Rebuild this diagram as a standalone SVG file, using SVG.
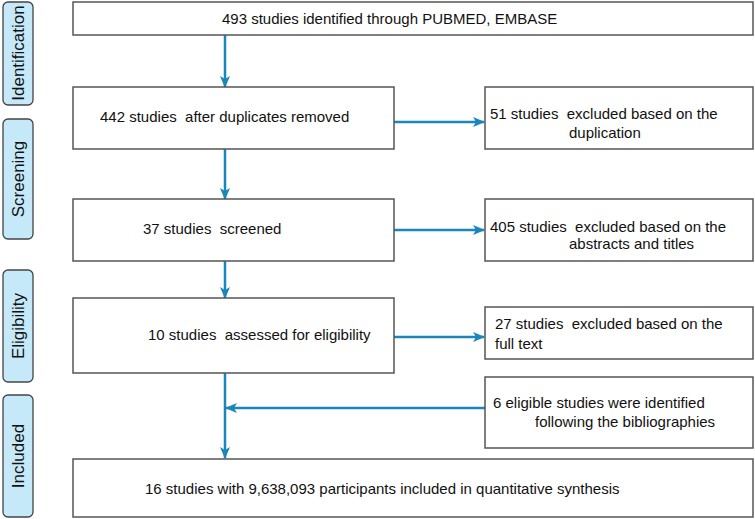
<svg xmlns="http://www.w3.org/2000/svg" width="755" height="519" viewBox="0 0 755 519">
<style>
.box{fill:#fff;stroke:#555;stroke-width:1.5}
.side{fill:#c6e9f9;stroke:#444;stroke-width:1.3}
.t{font-family:"Liberation Sans",Arial,sans-serif;font-size:15px;fill:#111;white-space:pre}
.st{font-family:"Liberation Sans",Arial,sans-serif;font-size:17px;fill:#111;text-anchor:middle;dominant-baseline:central}
.c{stroke:#1a86bb;stroke-width:2.5;fill:none}
</style>
<defs>
<marker id="ah" viewBox="0 0 12 10" refX="11" refY="5" markerWidth="12" markerHeight="10" markerUnits="userSpaceOnUse" orient="auto">
<path d="M0,0 L12,5 L0,10 L3,5 Z" fill="#1a86bb"/>
</marker>
</defs>
<rect width="755" height="519" fill="#fff"/>
<g id="lbl-identification"><rect class="side" x="3" y="2" width="30" height="103" rx="5"/><text class="st" transform="translate(18,53) rotate(-90)">Identification</text></g>
<g id="lbl-screening"><rect class="side" x="3" y="119" width="30" height="120" rx="5"/><text class="st" transform="translate(18,179) rotate(-90)">Screening</text></g>
<g id="lbl-eligibility"><rect class="side" x="3" y="270" width="30" height="112" rx="5"/><text class="st" transform="translate(18,326) rotate(-90)">Eligibility</text></g>
<g id="lbl-included"><rect class="side" x="3" y="395" width="30" height="122" rx="5"/><text class="st" transform="translate(18,456) rotate(-90)">Included</text></g>
<g id="connectors">
<line class="c" x1="225" y1="35" x2="225" y2="87" marker-end="url(#ah)"/>
<line class="c" x1="225" y1="149" x2="225" y2="199" marker-end="url(#ah)"/>
<line class="c" x1="225" y1="261" x2="225" y2="298" marker-end="url(#ah)"/>
<line class="c" x1="225" y1="373" x2="225" y2="458" marker-end="url(#ah)"/>
<line class="c" x1="394" y1="122" x2="484" y2="122" marker-end="url(#ah)"/>
<line class="c" x1="394" y1="230" x2="484" y2="230" marker-end="url(#ah)"/>
<line class="c" x1="394" y1="337" x2="484" y2="337" marker-end="url(#ah)"/>
<line class="c" x1="485" y1="408" x2="226" y2="408" marker-end="url(#ah)"/>
</g>
<g id="n-identified"><rect class="box" x="73" y="2" width="680" height="33"/><text class="t" x="222" y="24">493 studies identified through PUBMED, EMBASE</text></g>
<g id="n-duplicates"><rect class="box" x="73" y="87" width="321" height="62"/><text class="t" x="100" y="122">442 studies  after duplicates removed</text></g>
<g id="n-excl-dup"><rect class="box" x="485" y="87" width="268" height="62"/><text class="t" x="490" y="119">51 studies  excluded based on the</text><text class="t" x="569" y="138">duplication</text></g>
<g id="n-screened"><rect class="box" x="73" y="199" width="321" height="62"/><text class="t" x="143" y="234">37 studies  screened</text></g>
<g id="n-excl-abs"><rect class="box" x="485" y="199" width="268" height="62"/><text class="t" x="490" y="232">405 studies  excluded based on the</text><text class="t" x="569" y="249">abstracts and titles</text></g>
<g id="n-eligibility"><rect class="box" x="73" y="298" width="321" height="75"/><text class="t" x="148" y="340">10 studies  assessed for eligibility</text></g>
<g id="n-excl-full"><rect class="box" x="485" y="307" width="268" height="52"/><text class="t" x="495" y="329">27 studies  excluded based on the</text><text class="t" x="495" y="349">full text</text></g>
<g id="n-biblio"><rect class="box" x="485" y="377" width="268" height="71"/><text class="t" x="493" y="408">6 eligible studies were identified</text><text class="t" x="535" y="427">following the bibliographies</text></g>
<g id="n-included"><rect class="box" x="73" y="459" width="680" height="58"/><text class="t" x="145" y="494">16 studies with 9,638,093 participants included in quantitative synthesis</text></g>
</svg>
